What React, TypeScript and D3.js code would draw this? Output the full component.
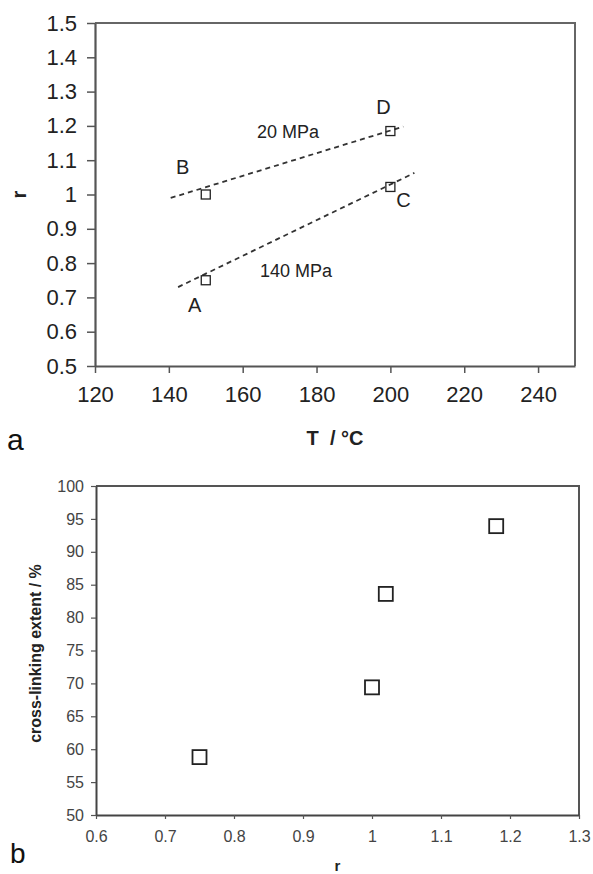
import { useEffect, useRef } from "react";
import * as d3 from "d3";

// panel a: r vs temperature
const temps = [150, 150, 200, 200];
const rVals = [0.75, 1.0, 1.185, 1.022];
const pointNames = ["A", "B", "D", "C"];
const line20 = [
  [140.5, 0.99],
  [203.5, 1.198],
];
const line140 = [
  [142.5, 0.73],
  [206.5, 1.063],
];
const lineNames = ["20 MPa", "140 MPa"];
const lineLabelT = [163.9, 164.7];
const lineLabelR = [1.165, 0.759];
const tTicks = [120, 140, 160, 180, 200, 220, 240];
const rTicks = [0.5, 0.6, 0.7, 0.8, 0.9, 1, 1.1, 1.2, 1.3, 1.4, 1.5];

// panel b: cross-linking extent vs r
const rB = [0.75, 1.0, 1.02, 1.18];
const crossLink = [58.8, 69.4, 83.6, 93.9];
const rTicksB = [0.6, 0.7, 0.8, 0.9, 1, 1.1, 1.2, 1.3];
const clTicks = [50, 55, 60, 65, 70, 75, 80, 85, 90, 95, 100];

const FONT = "'Liberation Sans', Arial, sans-serif";

export default function App() {
  const svgRef = useRef<SVGSVGElement>(null);

  useEffect(() => {
    const el = svgRef.current;
    if (!el) return;
    const svg = d3.select(el);
    svg.selectAll("*").remove();

    // ---------- panel a ----------
    const x = d3.scaleLinear().domain([120, 250]).range([95, 575]);
    const y = d3.scaleLinear().domain([0.5, 1.5]).range([366, 23]);

    const ga = svg.append("g");
    // frame top/right
    ga.append("path")
      .attr("d", `M${x(120)},${y(1.5)}H${x(250)}V${y(0.5)}`)
      .attr("fill", "none")
      .attr("stroke", "#666")
      .attr("stroke-width", 2);

    const axA = (g: any) => {
      g.select(".domain").attr("stroke", "#555").attr("stroke-width", 2.2);
      g.selectAll(".tick line").attr("stroke", "#555").attr("stroke-width", 1.5);
      g.selectAll(".tick text")
        .attr("fill", "#222")
        .style("font-size", "22px")
        .style("font-family", FONT);
    };
    ga.append("g")
      .attr("transform", `translate(0,${y(0.5)})`)
      .call(
        d3.axisBottom(x).tickValues(tTicks).tickSize(7).tickPadding(13).tickSizeOuter(0)
      )
      .call(axA);
    ga.append("g")
      .attr("transform", `translate(${x(120)},0)`)
      .call(
        d3
          .axisLeft(y)
          .tickValues(rTicks)
          .tickSize(8)
          .tickPadding(10)
          .tickSizeOuter(0)
          .tickFormat((d: any) => String(+d))
      )
      .call(axA);

    const line = d3
      .line<number[]>()
      .x((d) => x(d[0]))
      .y((d) => y(d[1]));
    [line20, line140].forEach((l) => {
      ga.append("path")
        .attr("d", line(l))
        .attr("fill", "none")
        .attr("stroke", "#333")
        .attr("stroke-width", 1.8)
        .attr("stroke-dasharray", "5 4");
    });

    const s = 9;
    ga.selectAll("rect.pa")
      .data(temps)
      .enter()
      .append("rect")
      .attr("class", "pa")
      .attr("x", (d) => x(d) - s / 2)
      .attr("y", (_d, i) => y(rVals[i]) - s / 2)
      .attr("width", s)
      .attr("height", s)
      .attr("fill", "none")
      .attr("stroke", "#222")
      .attr("stroke-width", 1.3);

    const offs: Record<string, [number, number]> = {
      A: [-11, 32],
      B: [-23, -21],
      D: [-7, -17],
      C: [13, 20],
    };
    ga.selectAll("text.pl")
      .data(pointNames)
      .enter()
      .append("text")
      .attr("class", "pl")
      .attr("x", (d, i) => x(temps[i]) + offs[d][0])
      .attr("y", (d, i) => y(rVals[i]) + offs[d][1])
      .attr("text-anchor", "middle")
      .attr("fill", "#222")
      .style("font-size", "20px")
      .style("font-family", FONT)
      .text((d) => d);

    ga.selectAll("text.ll")
      .data(lineNames)
      .enter()
      .append("text")
      .attr("class", "ll")
      .attr("x", (_d, i) => x(lineLabelT[i]))
      .attr("y", (_d, i) => y(lineLabelR[i]))
      .attr("fill", "#222")
      .style("font-size", "18px")
      .style("font-family", FONT)
      .text((d) => d);

    ga.append("text")
      .attr("x", (x(120) + x(250)) / 2)
      .attr("y", 445)
      .attr("text-anchor", "middle")
      .attr("fill", "#222")
      .style("font-size", "20px")
      .style("font-weight", "bold")
      .style("font-family", FONT)
      .attr("xml:space", "preserve")
      .text("T  / °C");
    ga.append("text")
      .attr("transform", `translate(26,${(y(0.5) + y(1.5)) / 2}) rotate(-90)`)
      .attr("text-anchor", "middle")
      .attr("fill", "#222")
      .style("font-size", "20px")
      .style("font-weight", "bold")
      .style("font-family", FONT)
      .text("r");
    ga.append("text")
      .attr("x", 7)
      .attr("y", 450)
      .attr("fill", "#111")
      .style("font-size", "30px")
      .style("font-family", FONT)
      .text("a");

    // ---------- panel b ----------
    const xb = d3.scaleLinear().domain([0.6, 1.3]).range([96, 579]);
    const yb = d3.scaleLinear().domain([50, 100]).range([815, 486]);
    const gb = svg.append("g");

    gb.append("path")
      .attr("d", `M${xb(0.6)},${yb(100)}H${xb(1.3)}V${yb(50)}`)
      .attr("fill", "none")
      .attr("stroke", "#555")
      .attr("stroke-width", 2);

    const axB = (g: any) => {
      g.select(".domain").attr("stroke", "#444").attr("stroke-width", 2);
      g.selectAll(".tick line").attr("stroke", "#555").attr("stroke-width", 1.2);
      g.selectAll(".tick text")
        .attr("fill", "#444")
        .style("font-size", "16px")
        .style("font-family", FONT);
    };
    gb.append("g")
      .attr("transform", `translate(0,${yb(50)})`)
      .call(
        d3
          .axisBottom(xb)
          .tickValues(rTicksB)
          .tickSize(4)
          .tickPadding(12)
          .tickSizeOuter(0)
          .tickFormat((d: any) => String(+d))
      )
      .call(axB);
    gb.append("g")
      .attr("transform", `translate(${xb(0.6)},0)`)
      .call(d3.axisLeft(yb).tickValues(clTicks).tickSize(5).tickPadding(7).tickSizeOuter(0))
      .call(axB);

    const sb = 14;
    gb.selectAll("rect.pb")
      .data(rB)
      .enter()
      .append("rect")
      .attr("class", "pb")
      .attr("x", (d) => xb(d) - sb / 2)
      .attr("y", (_d, i) => yb(crossLink[i]) - sb / 2)
      .attr("width", sb)
      .attr("height", sb)
      .attr("fill", "none")
      .attr("stroke", "#222")
      .attr("stroke-width", 1.8);

    gb.append("text")
      .attr("transform", `translate(41,${(yb(50) + yb(100)) / 2 + 3}) rotate(-90)`)
      .attr("text-anchor", "middle")
      .attr("fill", "#222")
      .style("font-size", "16px")
      .style("font-weight", "bold")
      .style("font-family", FONT)
      .text("cross-linking extent / %");
    gb.append("text")
      .attr("x", (xb(0.6) + xb(1.3)) / 2)
      .attr("y", 871)
      .attr("text-anchor", "middle")
      .attr("fill", "#222")
      .style("font-size", "15px")
      .style("font-weight", "bold")
      .style("font-family", FONT)
      .text("r");
    gb.append("text")
      .attr("x", 10)
      .attr("y", 863)
      .attr("fill", "#111")
      .style("font-size", "28px")
      .style("font-family", FONT)
      .text("b");
  }, []);

  return (
    <svg
      ref={svgRef}
      width={593}
      height={874}
      style={{ position: "absolute", left: 0, top: 0, background: "#fff" }}
    />
  );
}
